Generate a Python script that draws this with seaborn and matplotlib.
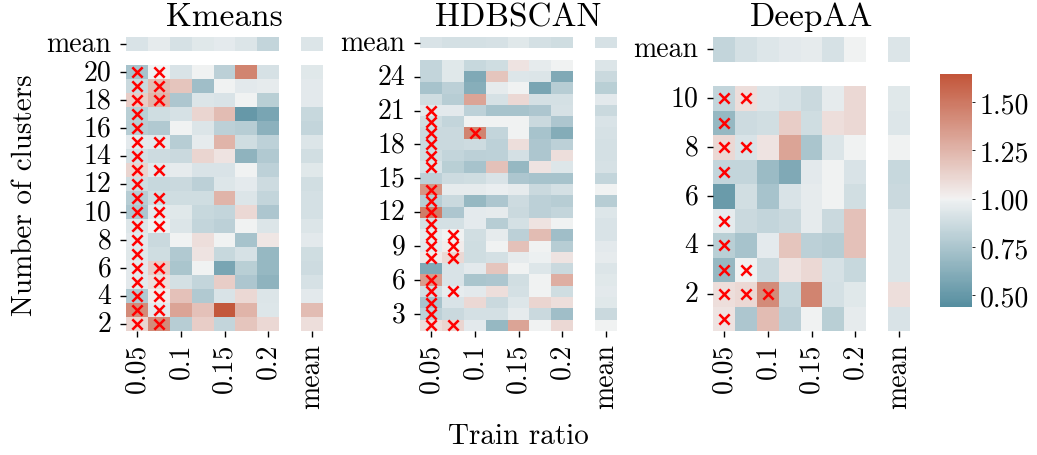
import matplotlib.pyplot as plt
import seaborn as sns
import numpy as np

plt.rcParams['font.family'] = 'cmr10'
plt.rcParams['mathtext.fontset'] = 'cm'
plt.rcParams['axes.formatter.use_mathtext'] = True
plt.rcParams['font.size'] = 20

ratios = [0.05, 0.075, 0.1, 0.125, 0.15, 0.175, 0.2]
xtick_labels = ['0.05', '0.1', '0.15', '0.2', 'mean']

# ---- Kmeans ----
kmeans_clusters = [20, 19, 18, 17, 16, 15, 14, 13, 12, 11, 10, 9, 8, 7, 6, 5, 4, 3, 2]
kmeans_values = [
    [0.74, 1.00, 0.92, 1.00, 0.81, 1.45, 0.91],
    [0.86, 1.22, 1.18, 0.71, 1.00, 0.95, 0.965],
    [1.15, 1.25, 0.76, 0.925, 0.92, 1.00, 0.80],
    [0.80, 0.88, 0.91, 1.12, 1.22, 0.50, 0.57],
    [0.79, 0.77, 1.00, 0.925, 0.81, 0.79, 0.64],
    [0.955, 0.95, 0.79, 0.96, 1.25, 0.88, 0.82],
    [0.90, 0.87, 0.86, 1.12, 1.06, 0.65, 0.77],
    [1.12, 0.95, 0.96, 0.92, 0.92, 1.00, 0.82],
    [0.88, 0.85, 0.86, 0.81, 0.93, 0.955, 0.87],
    [0.79, 0.88, 0.88, 0.88, 1.25, 0.925, 0.84],
    [0.76, 0.955, 0.94, 0.85, 0.84, 1.10, 0.76],
    [0.93, 1.00, 0.925, 0.84, 0.81, 1.00, 0.925],
    [0.95, 0.86, 1.00, 1.08, 1.00, 0.74, 1.05],
    [0.94, 0.88, 0.77, 1.06, 0.85, 0.91, 0.68],
    [0.95, 1.15, 0.75, 1.00, 0.57, 0.80, 0.68],
    [0.95, 1.08, 0.90, 0.84, 1.15, 0.76, 0.65],
    [0.77, 1.02, 1.20, 0.77, 0.92, 1.10, 0.925],
    [1.42, 0.95, 1.32, 1.20, 1.63, 1.25, 0.93],
    [1.12, 1.42, 0.79, 1.15, 0.84, 1.18, 1.10],
]
kmeans_row_mean = [0.94, 0.95, 0.95, 0.85, 0.84, 0.925, 0.89, 0.94, 0.89, 0.90,
                   0.90, 0.925, 0.95, 0.88, 0.87, 0.91, 0.95, 1.22, 1.08]
kmeans_col_mean = [0.92, 0.96, 0.91, 0.94, 0.955, 0.925, 0.84]
kmeans_total = 0.925
kmeans_yticks = [20, 18, 16, 14, 12, 10, 8, 6, 4, 2]
kmeans_fails = {
    0.05: [20, 19, 18, 17, 16, 15, 14, 13, 12, 11, 10, 9, 8, 7, 6, 5, 4, 3, 2],
    0.075: [20, 19, 18, 15, 13, 11, 10, 9, 6, 5, 4, 3, 2],
}

# ---- HDBSCAN ----
hdbscan_clusters = [25, 24, 23, 22, 21, 20, 19, 18, 17, 16, 15, 14, 13,
                    12, 11, 10, 9, 8, 7, 6, 5, 4, 3, 2]
hdbscan_values = [
    [0.84, 0.94, 0.85, 0.88, 1.06, 0.96, 1.00],
    [0.84, 0.94, 0.60, 1.18, 0.93, 0.925, 0.60],
    [0.74, 0.81, 0.62, 0.965, 1.00, 0.57, 0.79],
    [0.88, 0.79, 1.32, 0.91, 1.10, 0.90, 0.90],
    [0.95, 0.95, 0.82, 0.74, 0.74, 0.76, 0.91],
    [0.88, 0.84, 1.00, 1.00, 1.00, 0.86, 0.76],
    [0.86, 0.86, 1.45, 0.84, 1.00, 0.74, 0.61],
    [0.86, 0.86, 0.87, 0.82, 1.08, 0.76, 0.81],
    [0.88, 0.84, 0.81, 0.82, 0.90, 0.76, 1.08],
    [0.92, 0.80, 0.74, 1.20, 0.68, 1.06, 0.93],
    [0.81, 0.87, 0.88, 0.92, 0.76, 0.74, 0.74],
    [1.38, 0.96, 0.965, 0.98, 0.96, 0.86, 0.90],
    [0.79, 0.86, 0.68, 0.76, 0.87, 0.81, 0.79],
    [1.48, 0.76, 0.955, 0.96, 0.86, 0.81, 0.84],
    [0.90, 0.90, 0.955, 0.79, 0.90, 1.06, 1.00],
    [0.96, 1.00, 0.89, 0.96, 0.81, 1.22, 0.71],
    [0.95, 1.02, 0.88, 1.00, 1.20, 1.00, 0.79],
    [1.03, 1.10, 0.88, 0.90, 0.965, 0.99, 1.06],
    [0.60, 0.92, 0.95, 1.18, 1.00, 0.93, 0.86],
    [1.35, 0.92, 0.75, 0.76, 0.89, 1.00, 1.28],
    [0.89, 0.97, 0.95, 1.08, 0.90, 1.00, 0.88],
    [0.74, 0.92, 1.10, 0.86, 0.93, 1.12, 1.08],
    [0.81, 0.86, 0.90, 0.90, 0.96, 0.86, 0.71],
    [1.08, 1.12, 0.95, 0.68, 1.32, 1.00, 1.10],
]
hdbscan_row_mean = [0.925, 0.86, 0.80, 0.95, 0.86, 0.92, 0.91, 0.90, 0.90, 0.91,
                    0.84, 1.00, 0.79, 0.93, 0.92, 0.92, 0.95, 0.965, 0.925, 0.94,
                    0.95, 0.94, 0.86, 1.00]
hdbscan_col_mean = [0.92, 0.90, 0.90, 0.91, 0.94, 0.90, 0.88]
hdbscan_total = 0.91
hdbscan_yticks = [24, 21, 18, 15, 12, 9, 6, 3]
hdbscan_fails = {
    0.05: [21, 20, 19, 18, 17, 16, 14, 13, 12, 11, 10, 9, 8, 6, 5, 4, 3, 2],
    0.075: [10, 9, 8, 5, 2],
    0.1: [19],
}

# ---- DeepAA ----
deepaa_clusters = [10, 9, 8, 7, 6, 5, 4, 3, 2, 1]
deepaa_values = [
    [0.84, 1.08, 0.925, 0.91, 0.86, 0.96, 1.10],
    [0.68, 0.87, 0.89, 1.15, 0.88, 1.08, 1.10],
    [1.10, 0.92, 1.06, 1.32, 0.75, 0.925, 1.00],
    [0.84, 0.84, 0.69, 0.60, 0.95, 1.00, 0.92],
    [0.52, 0.89, 0.74, 0.92, 0.965, 1.00, 0.89],
    [0.97, 0.86, 0.84, 0.86, 0.96, 0.86, 1.20],
    [0.80, 0.74, 0.955, 1.18, 0.81, 0.79, 1.20],
    [0.68, 1.00, 0.86, 1.06, 1.10, 0.91, 0.85],
    [1.08, 1.10, 1.42, 0.85, 1.45, 0.90, 0.94],
    [1.06, 0.76, 1.22, 0.81, 1.00, 0.80, 0.96],
]
deepaa_row_mean = [0.94, 0.93, 1.00, 0.85, 0.86, 0.925, 0.925, 0.925, 1.08, 0.92]
deepaa_col_mean = [0.84, 0.90, 0.93, 0.95, 0.96, 0.91, 1.00]
deepaa_total = 0.925
deepaa_yticks = [10, 8, 6, 4, 2]
deepaa_fails = {
    0.05: [10, 9, 8, 7, 5, 4, 3, 2, 1],
    0.075: [10, 8, 3, 2],
    0.1: [2],
}

panels = [
    ('Kmeans', kmeans_clusters, kmeans_values, kmeans_row_mean, kmeans_col_mean,
     kmeans_total, kmeans_yticks, kmeans_fails),
    ('HDBSCAN', hdbscan_clusters, hdbscan_values, hdbscan_row_mean, hdbscan_col_mean,
     hdbscan_total, hdbscan_yticks, hdbscan_fails),
    ('DeepAA', deepaa_clusters, deepaa_values, deepaa_row_mean, deepaa_col_mean,
     deepaa_total, deepaa_yticks, deepaa_fails),
]

cmap = sns.diverging_palette(220, 20, as_cmap=True)
vmin, vmax = 0.44, 1.645

W, H = 1037, 456
fig = plt.figure(figsize=(W / 100, H / 100), dpi=100)
lefts = [126, 420, 713]
cax = fig.add_axes([940 / W, (H - 308) / H, 32 / W, 233 / H])

for i, (name, clusters, values, row_mean, col_mean, total, yticks, fails) in enumerate(panels):
    ax = fig.add_axes([lefts[i] / W, (H - 332) / H, 197 / W, 294 / H])
    n = len(clusters)
    # mean row on top, mean column on the right, one empty row/column as gap
    mat = np.full((n + 2, 9), np.nan)
    mat[0, :7] = col_mean
    mat[0, 8] = total
    mat[2:, :7] = values
    mat[2:, 8] = row_mean
    sns.heatmap(mat, ax=ax, cmap=cmap, center=1, vmin=vmin, vmax=vmax,
                cbar=(i == 0), cbar_ax=cax if i == 0 else None)

    for r, cl in fails.items():
        xs = [ratios.index(r) + 0.5 for c in cl]
        ys = [clusters.index(c) + 2.5 for c in cl]
        ax.scatter(xs, ys, marker='x', color='red', s=55, linewidths=1.8, zorder=3)

    ax.set_xticks([0.5, 2.5, 4.5, 6.5, 8.5])
    ax.set_xticklabels(xtick_labels, rotation=90)
    ax.set_yticks([0.5] + [clusters.index(c) + 2.5 for c in yticks])
    ax.set_yticklabels(['mean'] + [str(c) for c in yticks], rotation=0)
    ax.tick_params(axis='y', length=4.5, width=1, pad=6)
    ax.tick_params(axis='x', length=4.5, width=1, pad=4)
    ax.set_title(name, pad=8.5)

cax.set_yticks([0.5, 0.75, 1.0, 1.25, 1.5])
cax.set_yticklabels(['0.50', '0.75', '1.00', '1.25', '1.50'])
cax.tick_params(length=2, width=0.6)

fig.text(25 / W, 1 - 195 / H, 'Number of clusters', rotation=90, ha='center', va='center',
         fontsize=21)
fig.text(518 / W, 1 - 437 / H, 'Train ratio', ha='center', va='center', fontsize=21)

fig.savefig('out.png', dpi=100)
